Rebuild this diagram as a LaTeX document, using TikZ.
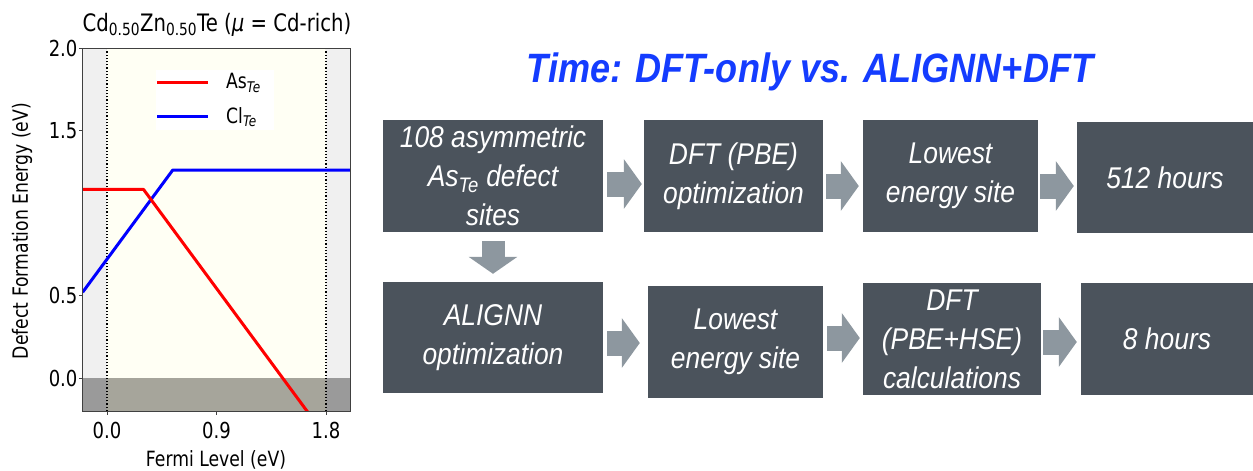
\documentclass[tikz,border=0pt]{standalone}
\usepackage{fontspec}
\setmainfont{Liberation Sans}[FakeStretch=0.88]
\newfontfamily\plotfont{DejaVu Sans}[FakeStretch=0.82]
\usetikzlibrary{arrows.meta}
\definecolor{boxgray}{HTML}{4B535C}
\definecolor{arrgray}{HTML}{8D979F}
\definecolor{titleblue}{RGB}{20,60,255}
\definecolor{sidegray}{HTML}{F0F0F0}
\definecolor{ivory}{HTML}{FFFFF4}
\definecolor{negside}{HTML}{9A9A9A}
\definecolor{negmid}{HTML}{A6A59B}
\tikzset{
  stepbox/.style={fill=boxgray, text=white, align=center, inner sep=0pt,
    font=\fontsize{30}{39}\selectfont\itshape},
  blk/.style={draw=arrgray, line width=25pt,
    -{Triangle[width=49pt,length=18pt]}},
  blkdown/.style={draw=arrgray, line width=23pt,
    -{Triangle[width=48pt,length=17pt]}},
  ticklab/.style={font=\plotfont\fontsize{22}{22}\selectfont, inner sep=0pt},
  axlab/.style={font=\plotfont\fontsize{21}{21}\selectfont, inner sep=0pt},
}
\begin{document}
\begin{tikzpicture}[x=1pt,y=-1pt]
\useasboundingbox (0,0) rectangle (1253,471);
% ---------------- plot ----------------
\begin{scope}[shift={(107,378)}, x=121.7pt, y=165pt]
  \fill[sidegray] (-0.2,0) rectangle (0,2.0);
  \fill[ivory] (0,0) rectangle (1.8,2.0);
  \fill[sidegray] (1.8,0) rectangle (2.0,2.0);
  \fill[negside] (-0.2,-0.2) rectangle (2.0,0);
  \fill[negmid] (0,-0.2) rectangle (1.8,0);
  \draw[black, dotted, line width=1.2pt] (0,-0.2) -- (0,2.0);
  \draw[black, dotted, line width=1.2pt] (1.8,-0.2) -- (1.8,2.0);
  \begin{scope}
    \clip (-0.2,-0.2) rectangle (2.0,2.0);
    \draw[blue, line width=3pt, line join=round] (-0.2,0.52) -- (0.54,1.26) -- (2.05,1.26);
    \draw[red, line width=3pt, line join=round] (-0.25,1.143) -- (0.30,1.143) -- (1.66,-0.217);
  \end{scope}
  \draw[black!75, line width=1pt] (-0.2,-0.2) rectangle (2.0,2.0);
  \foreach \v/\t in {2.0/2.0,1.5/1.5,0.5/0.5,0/0.0} {
    \draw[black!75, line width=0.8pt] (-0.2,\v) -- ++(-4pt,0);
    \node[ticklab, anchor=east] (yt\t) at ([xshift=-5pt]-0.2,\v) {\t};
  }
  \foreach \v/\t in {0/0.0,0.9/0.9,1.8/1.8} {
    \draw[black!75, line width=0.8pt] (\v,-0.2) -- ++(0,-4pt);
    \node[ticklab] (xt\t) at ([yshift=-19pt]\v,-0.2) {\t};
  }
\end{scope}
% legend
\node[fill=white, minimum width=118pt, minimum height=60pt, inner sep=0pt] (leg) at (215,100) {};
\coordinate (la1) at (157,82); \coordinate (la2) at (208,82);
\coordinate (lb1) at (157,116); \coordinate (lb2) at (208,116);
\draw[red, line width=3pt] (la1) -- (la2);
\draw[blue, line width=3pt] (lb1) -- (lb2);
\node[ticklab, font=\plotfont\fontsize{21}{21}\selectfont, anchor=west] (legA) at (226,83) {As\textsubscript{\itshape Te}};
\node[ticklab, font=\plotfont\fontsize{21}{21}\selectfont, anchor=west] (legB) at (226,117) {Cl\textsubscript{\itshape Te}};
% plot labels
\node[axlab, font=\plotfont\fontsize{24}{24}\selectfont] (ptitle) at (217,25) {Cd\textsubscript{0.50}Zn\textsubscript{0.50}Te ({\itshape μ} = Cd-rich)};
\node[axlab, rotate=90] (ylab) at (22,231) {Defect Formation Energy (eV)};
\node[axlab] (xlab) at (216,460) {Fermi Level (eV)};
% ---------------- flow ----------------
\node[text=titleblue, font=\fontsize{41}{41}\selectfont\bfseries\itshape, inner sep=0pt] (title) at (810,72) {Time: DFT-only vs. ALIGNN+DFT};

\node[stepbox, minimum width=220pt, minimum height=112pt] (b1) at (493,176) {108 asymmetric\\As\textsubscript{Te} defect\\sites};
\node[stepbox, minimum width=179pt, minimum height=112pt] (b2) at (733.5,176) {DFT (PBE)\\optimization};
\node[stepbox, minimum width=175pt, minimum height=112pt] (b3) at (950.5,176) {Lowest\\energy site};
\node[stepbox, minimum width=176pt, minimum height=111pt] (b4) at (1165,177.5) {512 hours};

\node[stepbox, minimum width=220pt, minimum height=111pt] (c1) at (493,337.5) {ALIGNN\\optimization};
\node[stepbox, minimum width=175pt, minimum height=112pt] (c2) at (735.5,342) {Lowest\\energy site};
\node[stepbox, minimum width=178pt, minimum height=112pt] (c3) at (952,339) {DFT\\(PBE+HSE)\\calculations};
\node[stepbox, minimum width=172pt, minimum height=112pt] (c4) at (1167,339) {8 hours};

\draw[blk] ([shift={(4,8)}]b1.east) -- ([shift={(-2,8)}]b2.west);
\draw[blk] ([shift={(3,10)}]b2.east) -- ([shift={(-4,10)}]b3.west);
\draw[blk] ([shift={(2,10)}]b3.east) -- ([shift={(-3,8.5)}]b4.west);
\draw[blkdown] ([shift={(0,9)}]b1.south) -- ([shift={(0,-8)}]c1.north);
\draw[blk] ([shift={(4,5.5)}]c1.east) -- ([shift={(-8,1)}]c2.west);
\draw[blk] ([shift={(4,-4)}]c2.east) -- ([shift={(-3,-1)}]c3.west);
\draw[blk] ([shift={(2,3)}]c3.east) -- ([shift={(-4,3)}]c4.west);
\end{tikzpicture}
\end{document}
